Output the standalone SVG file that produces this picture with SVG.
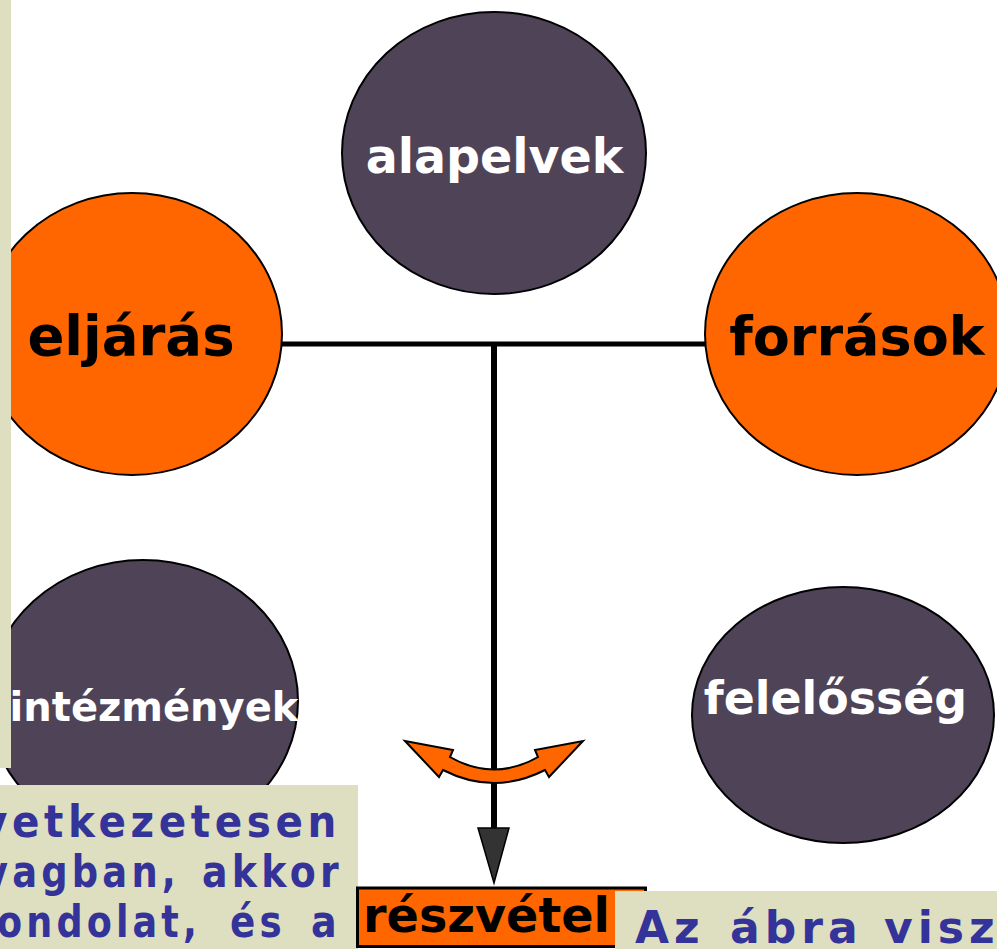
<svg xmlns="http://www.w3.org/2000/svg" width="997" height="949" viewBox="0 0 997 949">
<style>
.node{stroke:#000;stroke-width:2}
.dark{fill:#4F4358}
.orange{fill:#FF6600}
.lbl{font-family:"DejaVu Sans","Verdana",sans-serif;font-weight:bold;text-anchor:middle}
.w{fill:#FFFFFF}
.b{fill:#000000}
.box{fill:#DEDEC0}
.note{font-family:"DejaVu Sans","Verdana",sans-serif;font-weight:bold;font-size:44px;fill:#333399}
</style>
<rect x="0" y="0" width="997" height="949" fill="#FFFFFF"/>
<g id="connectors">
  <line x1="282" y1="344" x2="706" y2="344" stroke="#000" stroke-width="5"/>
  <line x1="494" y1="344" x2="494" y2="830" stroke="#000" stroke-width="6"/>
  <polygon points="478,828 509,828 494,883" fill="#333333" stroke="#000" stroke-width="1.5"/>
  <path d="M405,741 L453,750 L450,757 Q494,782 538,757 L535,750 L583,741 L549,777 L545,770 Q494,796 443,770 L439,777 Z" fill="#FF6600" stroke="#000" stroke-width="2" stroke-linejoin="miter"/>
</g>
<g id="node-alapelvek">
  <ellipse class="node dark" cx="494" cy="153" rx="152" ry="141"/>
  <text class="lbl w" x="494.5" y="173" font-size="47.5">alapelvek</text>
</g>
<g id="node-eljaras">
  <ellipse class="node orange" cx="132" cy="334" rx="150" ry="141"/>
  <text class="lbl b" x="131" y="355" font-size="54.5">eljárás</text>
</g>
<g id="node-forrasok">
  <ellipse class="node orange" cx="857" cy="334" rx="152" ry="141"/>
  <text class="lbl b" x="857" y="355" font-size="54">források</text>
</g>
<g id="node-intezmenyek">
  <ellipse class="node dark" cx="143" cy="701" rx="155" ry="141"/>
  <text class="lbl w" x="154" y="721" font-size="40">intézmények</text>
</g>
<g id="node-felelosseg">
  <ellipse class="node dark" cx="843" cy="715" rx="151" ry="128"/>
  <text class="lbl w" x="835.5" y="714" font-size="45.8">felelősség</text>
</g>
<g id="left-strip">
  <rect class="box" x="0" y="0" width="11" height="768"/>
</g>
<g id="note-left">
  <rect class="box" x="0" y="785" width="358" height="164"/>
  <text class="note" x="-19" y="837" letter-spacing="5" textLength="360" lengthAdjust="spacingAndGlyphs">vetkezetesen</text>
  <text class="note" x="-16" y="887" letter-spacing="5" textLength="196" lengthAdjust="spacingAndGlyphs">yagban,</text>
  <text class="note" x="202" y="887" letter-spacing="5" textLength="141" lengthAdjust="spacingAndGlyphs">akkor</text>
  <text class="note" x="-3" y="937" letter-spacing="5" textLength="204" lengthAdjust="spacingAndGlyphs">ondolat,</text>
  <text class="note" x="230" y="937" letter-spacing="5" textLength="56" lengthAdjust="spacingAndGlyphs">és</text>
  <text class="note" x="311" y="937" letter-spacing="5" textLength="30" lengthAdjust="spacingAndGlyphs">a</text>
</g>
<g id="node-reszvetel">
  <rect x="357.5" y="888" width="288" height="58.5" fill="#FF6600" stroke="#000" stroke-width="3"/>
  <text class="lbl b" x="486.5" y="932" font-size="47.7">részvétel</text>
</g>
<g id="note-right">
  <rect class="box" x="615" y="891" width="382" height="58"/>
  <text class="note" y="943" letter-spacing="5"><tspan x="635">Az</tspan><tspan x="730">ábra</tspan><tspan x="884">visz</tspan></text>
</g>
</svg>
